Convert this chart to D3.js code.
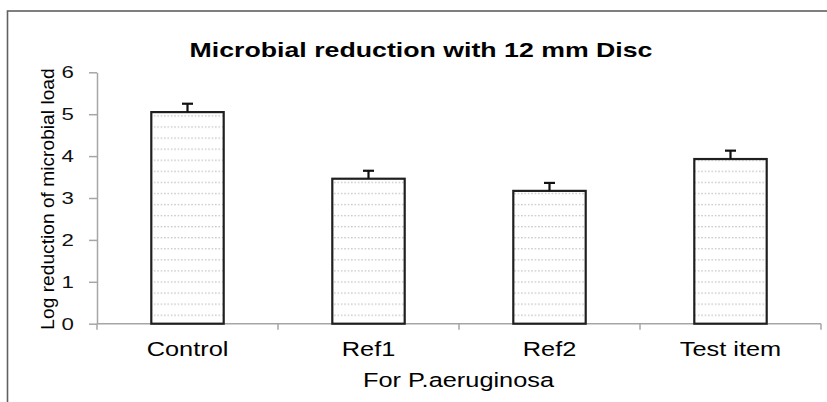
<!DOCTYPE html>
<html>
<head>
<meta charset="utf-8">
<script src="https://cdn.jsdelivr.net/npm/d3@7"></script>
<style>
  body { margin: 0; background: #fff; }
  svg { display: block; font-family: "Liberation Sans", Arial, sans-serif; }
</style>
</head>
<body>
<div id="chart"></div>
<script>
const categories = ["Control", "Ref1", "Ref2", "Test item"];
const values = [5.05, 3.46, 3.17, 3.93];
const errors = [0.2, 0.19, 0.19, 0.2];
const yTicks = [0, 1, 2, 3, 4, 5, 6];

const width = 827, height = 402;
// the source picture is stretched sideways, so horizontal text is widened
const sx = 1.3;

const svg = d3.select("#chart").append("svg")
  .attr("width", width)
  .attr("height", height);

// dotted fill of the bars
const defs = svg.append("defs");
const pat = defs.append("pattern")
  .attr("id", "dots")
  .attr("patternUnits", "userSpaceOnUse")
  .attr("width", 3.4)
  .attr("height", 11.07);
pat.append("rect").attr("width", 3.4).attr("height", 11.07).attr("fill", "#fff");
pat.append("rect").attr("x", 1).attr("y", 4.6).attr("width", 1.3).attr("height", 1.3).attr("fill", "#bdbdbd");

// outer frame, cut by the picture edges
svg.append("rect")
  .attr("x", 7.5).attr("y", 11)
  .attr("width", 900).attr("height", 500)
  .attr("fill", "none")
  .attr("stroke", "#606060")
  .attr("stroke-width", 1.6);

const x = d3.scaleBand()
  .domain(categories)
  .range([97, 821])
  .paddingInner(0.6)
  .paddingOuter(0.3);

const y = d3.scaleLinear()
  .domain([0, 6])
  .range([323.7, 72.3]);

// y axis
const yAxis = svg.append("g")
  .attr("transform", "translate(97,0)")
  .call(d3.axisLeft(y).tickValues(yTicks).tickSize(8).tickSizeOuter(0).tickFormat(""));
yAxis.select(".domain").attr("stroke", "#a6a6a6").attr("stroke-width", 1.5);
yAxis.selectAll(".tick line").attr("stroke", "#a6a6a6").attr("stroke-width", 1.5);

svg.selectAll(".ytl")
  .data(yTicks)
  .join("text")
  .attr("class", "ytl")
  .attr("transform", d => `translate(74,${y(d)}) scale(1.35,1)`)
  .attr("text-anchor", "end")
  .attr("dy", "0.36em")
  .style("font-size", "16.5px")
  .attr("fill", "#111")
  .text(d => d);

// x axis with ticks between categories
svg.append("line")
  .attr("x1", 97).attr("x2", 821)
  .attr("y1", y(0)).attr("y2", y(0))
  .attr("stroke", "#a6a6a6").attr("stroke-width", 1.5);
svg.selectAll(".xtick")
  .data(d3.range(categories.length + 1).map(i => x.range()[0] + i * x.step()))
  .join("line")
  .attr("class", "xtick")
  .attr("x1", d => d).attr("x2", d => d)
  .attr("y1", y(0)).attr("y2", y(0) + 6)
  .attr("stroke", "#a6a6a6").attr("stroke-width", 1.5);

// bars
svg.selectAll(".bar")
  .data(categories)
  .join("rect")
  .attr("class", "bar")
  .attr("x", d => x(d))
  .attr("y", (d, i) => y(values[i]))
  .attr("width", x.bandwidth())
  .attr("height", (d, i) => y(0) - y(values[i]))
  .attr("fill", "url(#dots)")
  .attr("stroke", "#1f1f1f")
  .attr("stroke-width", 2.2);

// error bars (upper only)
const eb = svg.selectAll(".err")
  .data(categories)
  .join("g")
  .attr("class", "err")
  .attr("stroke", "#111")
  .attr("stroke-width", 2.2);
eb.append("line")
  .attr("x1", d => x(d) + x.bandwidth() / 2)
  .attr("x2", d => x(d) + x.bandwidth() / 2)
  .attr("y1", (d, i) => y(values[i]))
  .attr("y2", (d, i) => y(values[i] + errors[i]));
eb.append("line")
  .attr("x1", d => x(d) + x.bandwidth() / 2 - 5.5)
  .attr("x2", d => x(d) + x.bandwidth() / 2 + 5.5)
  .attr("y1", (d, i) => y(values[i] + errors[i]))
  .attr("y2", (d, i) => y(values[i] + errors[i]));

// category labels
svg.selectAll(".xl")
  .data(categories)
  .join("text")
  .attr("class", "xl")
  .attr("transform", d => `translate(${x(d) + x.bandwidth() / 2},355.5) scale(${sx},1)`)
  .attr("text-anchor", "middle")
  .style("font-size", "19.5px")
  .attr("fill", "#000")
  .text(d => d);

// axis titles
svg.append("text")
  .attr("transform", `translate(458.5,387) scale(${sx},1)`)
  .attr("text-anchor", "middle")
  .style("font-size", "19.5px")
  .attr("fill", "#000")
  .text("For P.aeruginosa");

svg.append("text")
  .attr("transform", "translate(53.5,199) rotate(-90)")
  .attr("text-anchor", "middle")
  .style("font-size", "19.2px")
  .attr("fill", "#000")
  .text("Log reduction of microbial load");

// chart title
svg.append("text")
  .attr("transform", "translate(421,57) scale(1.37,1)")
  .attr("text-anchor", "middle")
  .style("font-size", "19.5px")
  .style("font-weight", "bold")
  .attr("fill", "#000")
  .text("Microbial reduction with 12 mm Disc");
</script>
</body>
</html>
